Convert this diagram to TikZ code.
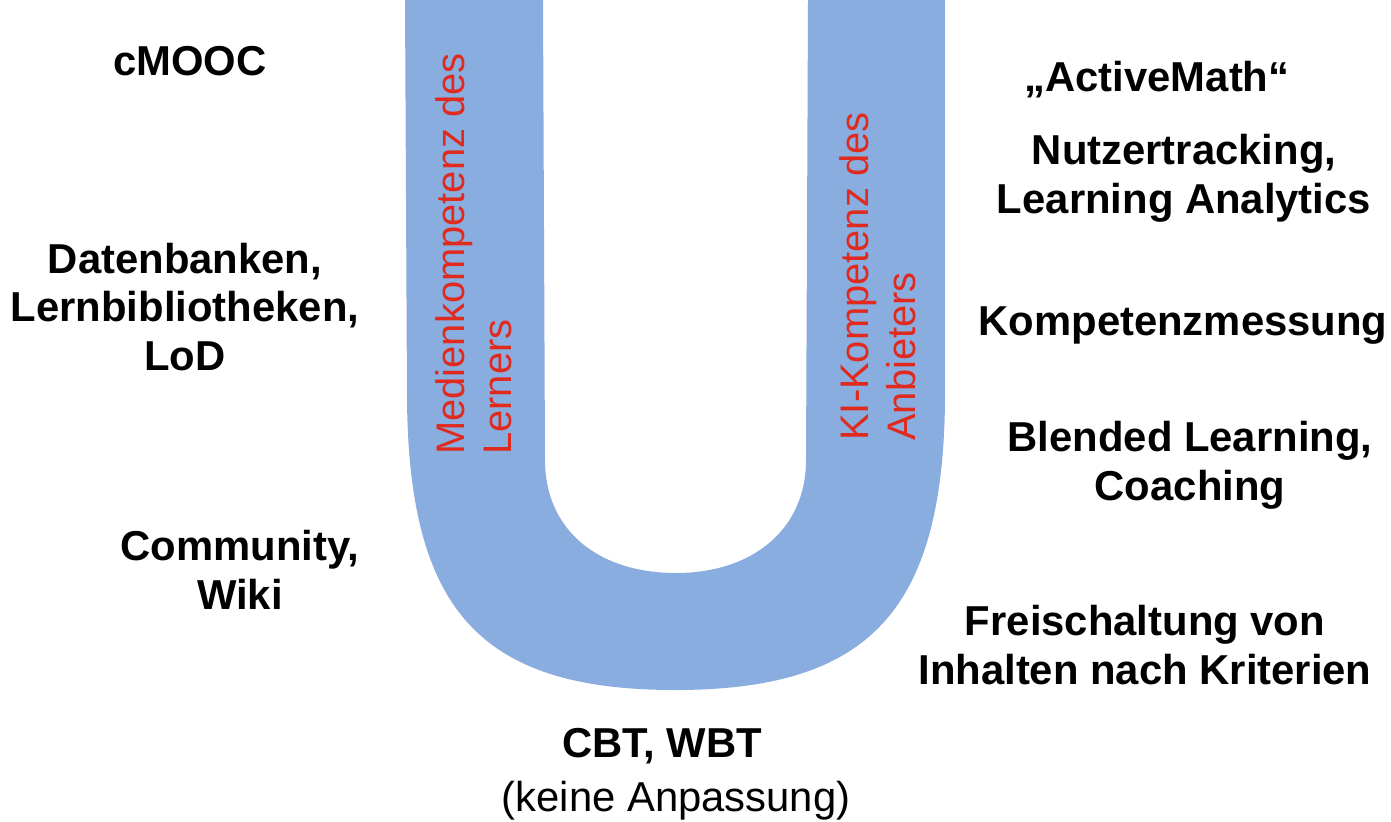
\documentclass[tikz,border=0pt]{standalone}
\usepackage{fontspec}
\setmainfont{Liberation Sans}
\usetikzlibrary{positioning}
\definecolor{UBlau}{HTML}{8AADE0}
\definecolor{URot}{HTML}{E02A1E}

\begin{document}
\begin{tikzpicture}[x=0.02cm,y=-0.02cm,
  stufe/.style={font=\fontsize{23.8}{27.8}\selectfont\bfseries,align=center,inner sep=0pt},
  kompetenz/.style={font=\fontsize{22.7}{26.5}\selectfont,text=URot,align=left,rotate=90,anchor=west,inner sep=0pt}]
  \useasboundingbox (0,0) rectangle (1391,821);
  % --- U-Form ---
  \fill[UBlau] (405,0) -- (407,400)
    .. controls (409,610) and (480,690) .. (675,690)
    .. controls (870,690) and (943,610) .. (945,400) -- (945,0) -- (808,0) -- (806,460)
    .. controls (806,530) and (752,573) .. (676,573)
    .. controls (598,573) and (545,530) .. (545,460) -- (543,0) -- cycle;
  % --- Kompetenzen im U ---
  \node[kompetenz] (lerner) at (474,455) {Medienkompetenz des\\Lerners};
  \node[kompetenz] (anbieter) at (878,441) {KI-Kompetenz des\\Anbieters};
  % --- links: Lernerseite ---
  \node[stufe] (cmooc) at (190,61) {cMOOC};
  \node[stufe] (daten) at (185,307) {Datenbanken,\\Lernbibliotheken,\\LoD};
  \node[stufe] (community) at (240,570) {Community,\\Wiki};
  % --- rechts: Anbieterseite ---
  \node[stufe] (activemath) at (1157,80) {„ActiveMath“};
  \node[stufe] (tracking) at (1184,178) {Nutzertracking,\\Learning Analytics};
  \node[stufe] (messung) at (1183,326) {Kompetenzmessung};
  \node[stufe] (blended) at (1190,465) {Blended Learning,\\Coaching};
  \node[stufe] (freischaltung) at (1145,645) {Freischaltung von\\Inhalten nach Kriterien};
  % --- unten ---
  \node[stufe] (cbt) at (662,746) {CBT, WBT};
  \node[stufe,font=\fontsize{23.8}{27.8}\selectfont] (anpassung) at (676,801) {(keine Anpassung)};
\end{tikzpicture}
\end{document}
